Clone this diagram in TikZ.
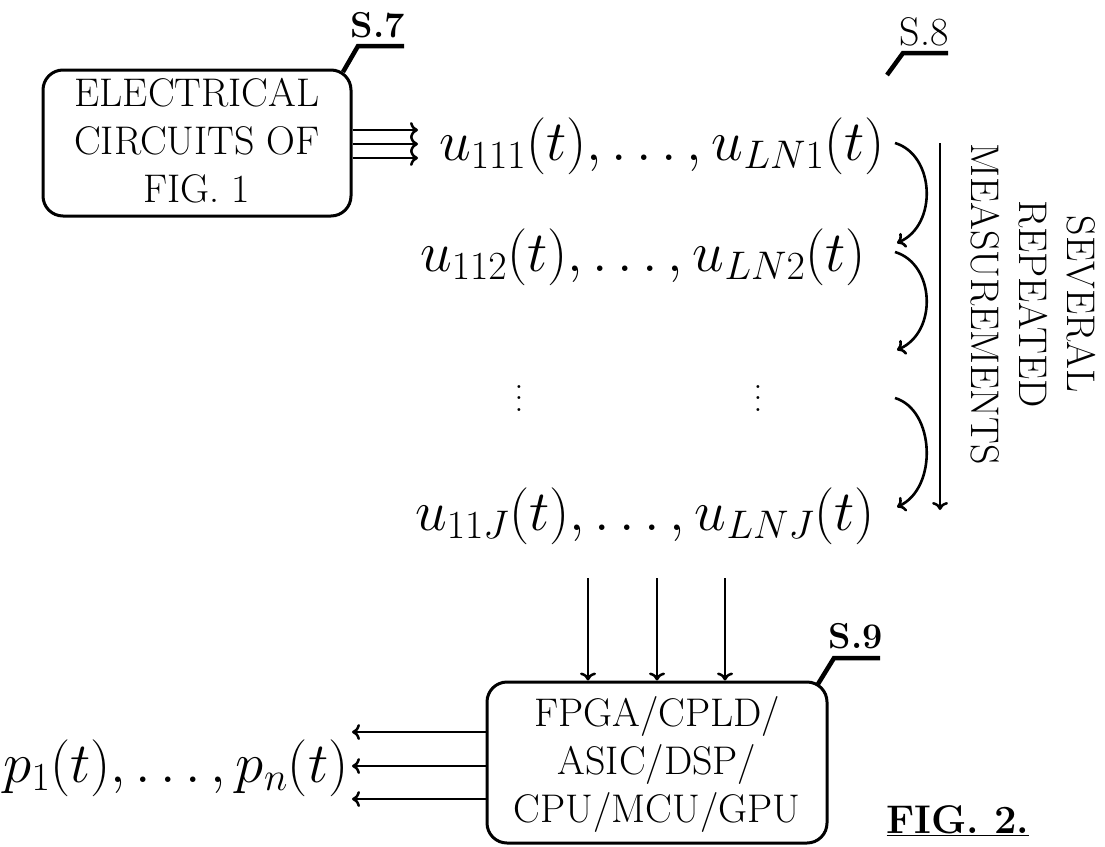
\RequirePackage{fix-cm}
\documentclass[tikz,border=0pt]{standalone}
\usetikzlibrary{arrows.meta}
\begin{document}
\begin{tikzpicture}[x=1pt,y=-1pt,
  boxtxt/.style={font=\fontsize{40}{48}\selectfont, align=center, inner sep=0pt},
  blk/.style={draw, line width=3pt, rounded corners=20pt, inner sep=0pt},
  mathrow/.style={font=\fontsize{57}{64}\selectfont, inner sep=0pt, anchor=base},
  lbl/.style={font=\fontsize{36}{40}\selectfont, inner sep=0pt, anchor=base},
  leader/.style={line width=4.5pt},
  arr/.style={line width=2.5pt, -{Computer Modern Rightarrow[length=8pt,width=16pt]}},
  curvearr/.style={line width=2.6pt, -{Computer Modern Rightarrow[length=8pt,width=16pt]}}]
\useasboundingbox (0,0) rectangle (1105,846);

% Box 1
\node[blk, minimum width=308pt, minimum height=146pt] (box1) at (197,143) {};
\node[boxtxt] (box1t) at (197,141) {ELECTRICAL\\CIRCUITS OF\\FIG. 1};
\node[lbl] (s7) at (378,37) {\textbf{S.7}};
\coordinate (s7a) at (343,72);
\coordinate (s7b) at (358,46);
\coordinate (s7c) at (404,46);
\draw[leader] (s7a) -- (s7b) -- (s7c);

% triple arrows
\coordinate (t1) at (418,130);
\coordinate (t2) at (418,144);
\coordinate (t3) at (418,158);
\draw[arr] (box1.east |- t1) -- (t1);
\draw[arr] (box1.east |- t2) -- (t2);
\draw[arr] (box1.east |- t3) -- (t3);

% rows
\node[mathrow] (r1) at (662,160) {$u_{111}(t),\ldots,u_{LN1}(t)$};
\node[mathrow] (r2) at (643,271) {$u_{112}(t),\ldots,u_{LN2}(t)$};
\node[inner sep=0pt] (d1) at (519,390) {\scalebox{2.8}{$\vdots$}};
\node[inner sep=0pt] (d2) at (758,390) {\scalebox{2.8}{$\vdots$}};
\node[mathrow] (rJ) at (645,530) {$u_{11J}(t),\ldots,u_{LNJ}(t)$};

% S.8
\node[lbl, font=\fontsize{40}{44}\selectfont] (s8) at (924,45) {S.8};
\coordinate (s8a) at (887,75);
\coordinate (s8b) at (903,53);
\coordinate (s8c) at (948,53);
\draw[leader] (s8a) -- (s8b) -- (s8c);

% curved arrows
\coordinate (c1s) at (895,143);
\coordinate (c1e) at (897,243);
\coordinate (c2s) at (895,252);
\coordinate (c2e) at (897,350);
\coordinate (c3s) at (895,398);
\coordinate (c3e) at (897,507);
\draw[curvearr] (c1s) .. controls (935,155) and (938,225) .. (c1e);
\draw[curvearr] (c2s) .. controls (935,264) and (938,332) .. (c2e);
\draw[curvearr] (c3s) .. controls (935,410) and (938,488) .. (c3e);

% long arrow
\coordinate (la1) at (940,143);
\coordinate (la2) at (940,510);
\draw[arr] (la1) -- (la2);
\node[boxtxt, rotate=-90] (sev) at (1033,304) {SEVERAL\\REPEATED\\MEASUREMENTS};

% Box 2
\node[blk, minimum width=340pt, minimum height=161pt] (box2) at (657,762.5) {};
\node[boxtxt] (box2t) at (657,764) {FPGA/CPLD/\\ASIC/DSP/\\CPU/MCU/GPU};
\node[lbl] (s9) at (856,648) {\textbf{S.9}};
\coordinate (s9a) at (818,684);
\coordinate (s9b) at (834,658);
\coordinate (s9c) at (880,658);
\draw[leader] (s9a) -- (s9b) -- (s9c);

% down arrows
\coordinate (dn1) at (588,578);
\coordinate (dn2) at (657,578);
\coordinate (dn3) at (725,578);
\draw[arr] (dn1) -- (dn1 |- box2.north);
\draw[arr] (dn2) -- (dn2 |- box2.north);
\draw[arr] (dn3) -- (dn3 |- box2.north);

% left arrows
\coordinate (l1) at (352,732);
\coordinate (l2) at (352,766);
\coordinate (l3) at (352,799);
\draw[arr] (box2.west |- l1) -- (l1);
\draw[arr] (box2.west |- l2) -- (l2);
\draw[arr] (box2.west |- l3) -- (l3);
\node[mathrow] (pr) at (176,782) {$p_1(t),\ldots,p_n(t)$};

% FIG. 2.
\node[inner sep=0pt, anchor=base, font=\fontsize{40}{44}\selectfont] (fig) at (958,833) {\underline{\textbf{FIG. 2.}}};
\end{tikzpicture}
\end{document}
